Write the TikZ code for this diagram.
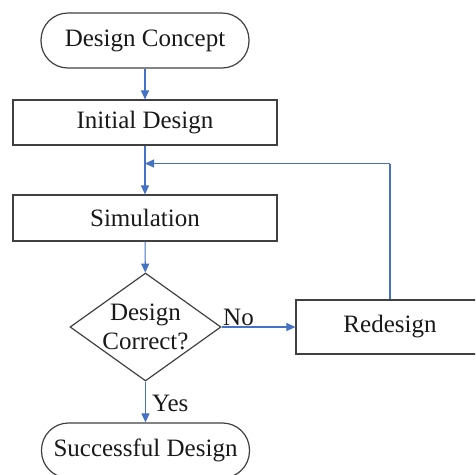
\documentclass[tikz,border=0pt]{standalone}
\usepackage{fontspec}
\setmainfont{Liberation Serif}
\usetikzlibrary{arrows.meta,shapes.geometric}
\definecolor{flowblue}{RGB}{68,114,196}
\definecolor{boxgray}{RGB}{64,64,64}
\begin{document}
\begin{tikzpicture}[x=1pt,y=-1pt,
  every node/.style={font=\fontsize{25}{29}\selectfont, text=black!90},
  boxbase/.style={draw=boxgray, line width=1.2pt, inner sep=0pt},
  procbox/.style={boxbase, rectangle, minimum width=264pt, minimum height=46pt},
  termbox/.style={boxbase, rectangle, rounded corners=27pt, minimum width=208pt, minimum height=55pt},
  decbox/.style={boxbase, diamond, minimum width=151pt, minimum height=108pt, align=center, font=\fontsize{25}{29}\selectfont},
  flow/.style={draw=flowblue, line width=1.1pt, -{Triangle[length=9pt,width=8pt]}},
  flowline/.style={draw=flowblue, line width=1.1pt},
  lbl/.style={inner sep=0pt, font=\fontsize{25}{29}\selectfont}
]
\useasboundingbox (0,0) rectangle (475,475);
\begin{scope}
\clip (0,0) rectangle (475,475);
\node[termbox] (dc) at (145,40.5) {Design Concept};
\node[procbox, minimum height=45pt] (init) at (145,122.5) {Initial Design};
\node[procbox] (sim) at (145,218) {Simulation};
\node[decbox] (dec) at (145.5,327) {};
\node[lbl, align=center] (dectxt) at (145.5,327) {Design\\Correct?};
\node[boxbase, rectangle, minimum width=190pt, minimum height=54pt] (red) at (391,327) {};
\node[lbl] (redtxt) at (390,327) {Redesign};
\node[termbox] (succ) at (145.5,450.5) {Successful Design};
\coordinate (j) at (145,163.5);
\coordinate (k) at (390,163.5);
\end{scope}
\draw[flow] (dc) -- (init);
\draw[flowline] (init) -- (j);
\draw[flow] (j) -- (sim);
\draw[flow] (sim) -- (dec);
\draw[flow] (dec.east) -- node[lbl, above, yshift=1pt, xshift=-20pt] {No} (red.west);
\draw[flowline] (red.north -| k) -- (k);
\draw[flow] (k) -- (j);
\draw[flow] (dec.south) -- node[lbl, right, xshift=6pt, yshift=-1pt] {Yes} (succ.north);
\end{tikzpicture}
\end{document}
